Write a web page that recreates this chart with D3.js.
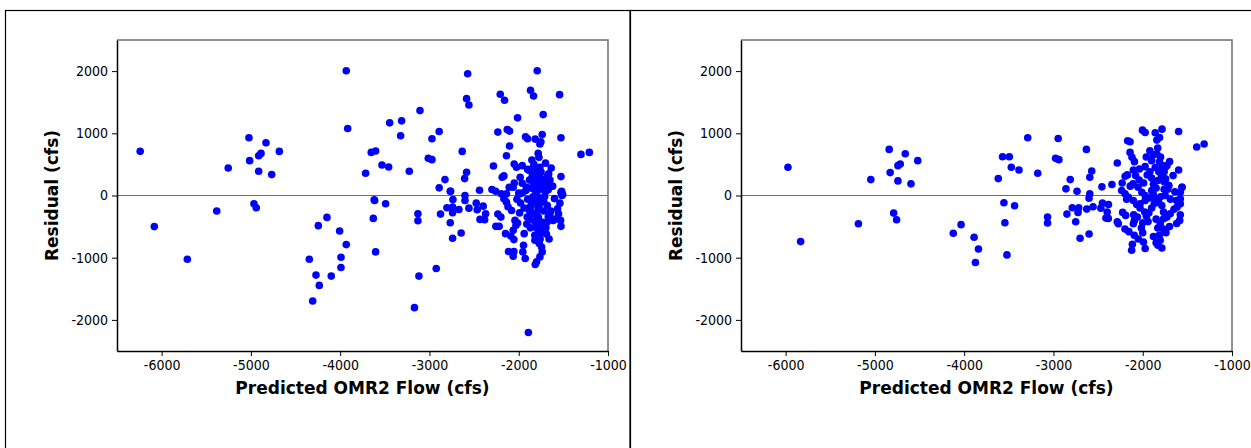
<!DOCTYPE html>
<html>
<head>
<meta charset="utf-8">
<script src="https://cdnjs.cloudflare.com/ajax/libs/d3/7.8.5/d3.min.js"></script>
<style>
  body { margin: 0; background: #fff; }
  .tick text { font-family: "DejaVu Sans Condensed", "DejaVu Sans", sans-serif; font-size: 14px; fill: #000; }
  .axis-title { font-family: "DejaVu Sans", sans-serif; font-weight: bold; font-size: 17px; fill: #000; }
</style>
</head>
<body>
<div id="chart"></div>
<script>
// x ticks / y ticks
const xTicks = [-6000, -5000, -4000, -3000, -2000, -1000];
const yTicks = [-2000, -1000, 0, 1000, 2000];
const xTitle = "Predicted OMR2 Flow (cfs)";
const yTitle = "Residual (cfs)";

// left panel: [predicted, residual]
const leftPoints = [
  [-6240,710],[-6082,-500],[-5712,-1024],[-5383,-250],[-5254,443],[-5022,928],[-5014,560],[-4966,-133],
  [-4940,-197],[-4913,640],[-4887,677],[-4913,389],[-4831,848],[-4767,336],[-4682,709],
  [-3932,2005],[-3916,1077],
  [-4346,-1024],[-4245,-485],[-4148,-352],[-4271,-1280],[-4234,-1445],[-4308,-1696],[-4100,-1296],
  [-4006,-571],[-3932,-789],[-3991,-992],[-3991,-1157],
  [-2572,1957],[-2584,1557],[-2558,1456],[-3106,1365],[-3446,1168],[-3312,1200],[-3323,960],[-2891,1029],
  [-2972,912],[-3652,693],[-3603,715],[-3532,491],[-3457,459],[-3715,357],[-3226,389],[-3013,597],
  [-2972,576],[-2633,709],[-2584,373],[-2606,272],[-2826,256],[-2891,123],[-2767,69],[-3619,-69],
  [-2439,85],[-2283,475],[-2234,1019],[-2207,1627],[-2159,1531],[-2129,1061],[-2103,1035],[-2013,1248],
  [-2103,795],[-2137,640],[-2051,507],[-2025,453],[-2185,293],[-2166,315],[-1868,1691],[-1834,1600],
  [-1793,2005],[-1924,944],[-1901,912],[-1815,907],[-1763,827],[-1752,864],[-1726,1301],[-1737,981],
  [-1542,1621],[-1527,928],[-1782,677],[-1774,613],[-1853,571],[-1527,304],[-1303,661],[-1209,693],
  [-1519,69],[-1508,16],[-1690,176],[-1670,91],[-1636,443],[-1665,347],[-1677,315],[-1984,293],
  [-1961,197],[-2062,133],[-2107,133],
  [-3614,-80],[-3491,-133],[-3629,-368],[-3603,-907],[-3129,-293],[-3129,-405],[-3118,-1296],[-2924,-1173],
  [-3168,-1803],[-1892,-2203],[-2876,-299],[-2767,-437],[-2741,-688],[-2645,-603],[-2804,-197],[-2741,-187],
  [-2741,-277],[-2670,-224],[-2602,0],[-2602,-80],[-2558,-203],[-2737,-64],[-2763,69],[-2476,-123],
  [-2465,-229],[-2398,-171],[-2371,-293],[-2434,-384],[-2382,-389],[-2300,96],[-2259,69],[-2196,27],
  [-2166,-53],[-2137,-107],[-2234,-299],[-2200,-347],[-2256,-496],[-2219,-496],[-2148,-613],[-2088,-651],
  [-2054,-709],[-2062,-976],[-2114,-901],[-2054,-901],[-2042,-400],[-2031,-480],[-2062,-560],[-2013,-443],
  [-1946,-800],[-1927,-1013],[-1954,-907],[-1939,-613],[-1882,-389],[-1874,-187],[-1815,-1109],
  [-1527,-496],[-1531,-400],[-1554,-293],[-1565,-213],[-1539,-123],[-1516,0],[-1527,53],
  [-1819,-720],[-1770,-773],[-1737,-907],[-1744,-827],[-1763,-613],[-1726,-587],[-1718,-453],[-1744,-427],
  [-1681,-427],[-1670,-347],[-1695,-517],[-1614,-400],[-1651,-293],[-1800,-293],[-1782,-213],[-1856,-267],
  [-1905,-347],[-1763,-987],[-1800,-1067],
  [-1960,480],[-1900,420],[-1850,380],[-1800,350],[-1760,300],[-1720,250],[-1880,250],[-1820,200],
  [-1780,150],[-1740,100],[-1700,60],[-1860,120],[-1920,80],[-1960,40],[-1800,40],[-1840,-20],
  [-1900,-60],[-1760,-40],[-1720,-100],[-1680,-160],[-1800,-120],[-1860,-160],[-1940,-200],[-1980,-120],
  [-2020,-60],[-2000,40],[-2050,200],[-1880,400],[-1830,500],[-1790,440],[-1750,380],[-1700,520],
  [-1650,250],[-1620,150],[-1600,-50],[-1640,-250],[-1600,-380],[-1690,-620],[-1660,-700],[-1740,-480],
  [-1780,-560],[-1820,-640],[-1870,-520],[-1910,-460],[-1990,-280],[-2080,-240],[-2120,-180],[-1830,-300],
  [-1770,-220],[-2137,27],[-1987,27],[-1912,133],[-1838,213],[-1800,347],[-1763,453],[-1856,427],
  [-1830,100],[-1790,260],[-1750,180],[-1710,-20],[-1790,-60],[-1850,-90],[-1820,-420],[-1780,-350],
  [-1850,300],[-1770,-150],[-1720,-250],[-1880,-240],[-1810,-510],[-1760,-700]
];

// right panel: [predicted, residual]
const rightPoints = [
  [-5974,453],[-5046,256],[-4840,741],[-4660,672],[-4829,368],[-4742,480],[-4716,507],[-4520,560],
  [-4742,235],[-4596,187],
  [-5832,-741],[-5185,-453],[-4790,-283],[-4757,-389],[-4122,-608],[-4035,-469],[-3889,-672],[-3840,-859],
  [-3874,-1077],
  [-3288,928],[-2947,917],[-2976,597],[-2939,576],[-3570,624],[-3494,624],[-3472,453],[-3386,411],
  [-3618,272],[-3176,357],[-2631,741],[-2571,395],[-2593,293],[-2812,256],[-2860,107],[-2736,69],
  [-2593,27],[-2601,-43],[-2457,139],[-2345,176],[-2285,523],[-2169,880],[-2142,864],[-2142,693],
  [-2120,613],[-2093,544],[-2003,1051],[-1973,1013],[-1860,1008],[-1812,933],[-1842,891],[-1784,1067],
  [-1598,1029],[-1832,763],[-1842,667],[-1879,656],[-1812,544],[-1748,453],[-1699,544],[-1729,480],
  [-1598,411],[-1395,779],[-1312,827],[-2197,309],[-2172,331],[-2105,411],[-2037,427],[-1973,464],
  [-1744,267],[-1710,160],[-1560,133],[-1579,53],
  [-3555,-117],[-3435,-165],[-3544,-437],[-3521,-955],[-3066,-347],[-3066,-443],[-2849,-299],[-2751,-421],
  [-2702,-688],[-2601,-619],[-2789,-197],[-2717,-197],[-2725,-272],[-2627,-219],[-2556,-181],[-2451,-123],
  [-2384,-144],[-2398,-267],[-2469,-203],[-2386,-368],[-2412,-363],[-2285,-421],[-2273,-453],[-2225,-272],
  [-2191,-320],[-2199,-539],[-2155,-581],[-2095,-640],[-2116,-784],[-2124,-880],[-1992,-747],[-1973,-853],
  [-2015,-523],[-2101,-309],[-2093,-400],[-2105,-453],[-2060,-347],[-1977,-267],[-1932,-283],
  [-1815,-640],[-1804,-720],[-1786,-843],[-1831,-523],[-1804,-453],[-1767,-373],[-1729,-347],[-1692,-293],
  [-1767,-267],[-1586,-400],[-1579,-309],[-1616,-187],[-1579,-133],[-1579,-53],[-1560,133],[-1708,160],
  [-2236,80],[-2198,27],[-2161,-27],[-2108,187],[-2052,133],[-2010,53],[-1973,0],[-1883,27],
  [-1860,-53],[-1823,-107],[-1786,-160],[-1748,0],[-2105,-80],[-2067,-144],[-2030,-133],[-1973,-80],
  [-2080,320],[-2040,250],[-1990,200],[-1950,330],[-1900,280],[-1880,180],[-1850,120],[-1820,380],
  [-1790,300],[-1760,220],[-1720,100],[-1690,-60],[-1650,-220],[-1620,-450],[-1700,-500],[-1740,-600],
  [-1770,-540],[-1850,-380],[-1900,-200],[-1940,-420],[-2000,-600],[-2050,-700],[-1880,-660],[-1850,-760],
  [-1830,-800],[-2180,-60],[-2140,150],[-2230,200],[-1860,450],[-1780,480],[-1800,620],[-1900,560],
  [-1960,620],[-1920,720],[-1760,380],[-1660,320],[-1640,60],[-1620,-80],[-2030,-200],[-1960,-330],
  [-1900,80],[-1930,-40],[-1870,-130],[-1830,240],[-1800,-20],[-1760,100],[-1920,380],[-2000,-440]
];

const W = 1251, H = 448;
const svg = d3.select("#chart").append("svg")
  .attr("width", W)
  .attr("height", H);

// panel frames
svg.append("rect")
  .attr("x", 5.5).attr("y", 10.5)
  .attr("width", 624.5).attr("height", 460)
  .attr("fill", "none").attr("stroke", "#000").attr("stroke-width", 1.2);
svg.append("rect")
  .attr("x", 630.5).attr("y", 10.5)
  .attr("width", 640).attr("height", 460)
  .attr("fill", "none").attr("stroke", "#000").attr("stroke-width", 1.2);

function drawPanel(offsetX, points) {
  const plot = { left: 117, top: 40, width: 491, height: 311 };
  const g = svg.append("g")
    .attr("transform", `translate(${offsetX + plot.left}, ${plot.top})`);

  const x = d3.scaleLinear().domain([-6500, -1000]).range([0, plot.width]);
  const y = d3.scaleLinear().domain([-2500, 2500]).range([plot.height, 0]);

  // top and right frame (grey)
  g.append("path")
    .attr("d", `M0,0H${plot.width}V${plot.height}`)
    .attr("fill", "none").attr("stroke", "#6e6e6e").attr("stroke-width", 1.5);

  // zero line
  g.append("line")
    .attr("x1", 0).attr("x2", plot.width)
    .attr("y1", y(0)).attr("y2", y(0))
    .attr("stroke", "#6e6e6e").attr("stroke-width", 1.2);

  const fmt = d => String(d);
  const xAxis = g.append("g")
    .attr("transform", `translate(0, ${plot.height})`)
    .call(d3.axisBottom(x).tickValues(xTicks).tickFormat(fmt).tickSize(5).tickSizeOuter(0).tickPadding(4));
  const yAxis = g.append("g")
    .call(d3.axisLeft(y).tickValues(yTicks).tickFormat(fmt).tickSize(5).tickSizeOuter(0).tickPadding(4));
  [xAxis, yAxis].forEach(a => {
    a.select(".domain").attr("stroke", "#000").attr("stroke-width", 1.5);
    a.selectAll(".tick line").attr("stroke", "#000");
    a.attr("font-family", null).attr("font-size", null);
  });

  g.selectAll(".dot")
    .data(points)
    .enter().append("circle")
    .attr("class", "dot")
    .attr("cx", d => x(d[0]))
    .attr("cy", d => y(d[1]))
    .attr("r", 3.8)
    .attr("fill", "#0000ff");

  g.append("text")
    .attr("class", "axis-title")
    .attr("x", plot.width / 2)
    .attr("y", plot.height + 43)
    .attr("text-anchor", "middle")
    .text(xTitle);

  g.append("text")
    .attr("class", "axis-title")
    .attr("transform", `translate(-59, ${y(0)}) rotate(-90)`)
    .attr("text-anchor", "middle")
    .text(yTitle);
}

drawPanel(0, leftPoints);
drawPanel(624, rightPoints);
</script>
</body>
</html>
